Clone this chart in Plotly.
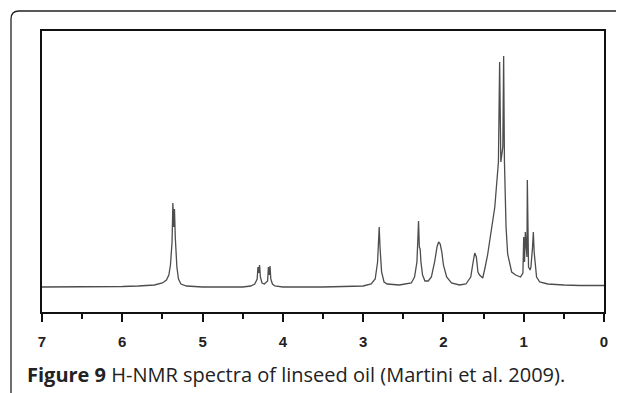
import plotly.graph_objects as go

# Traced spectrum: chemical shift (ppm) and intensity (arbitrary units, baseline = 0)
ppm = [7.0, 6.5, 6.0, 5.8, 5.6, 5.5, 5.45, 5.42, 5.40, 5.38, 5.37, 5.36, 5.35, 5.34, 5.32, 5.30, 5.27, 5.2, 5.0,
       4.5, 4.40, 4.35, 4.32, 4.31, 4.30, 4.29, 4.28, 4.26, 4.23, 4.19, 4.18, 4.17, 4.16, 4.15, 4.13, 4.10, 4.0,
       3.5, 3.0, 2.9, 2.85, 2.82, 2.81, 2.80, 2.79, 2.77, 2.74, 2.7, 2.55,
       2.4, 2.36, 2.33, 2.32, 2.31, 2.30, 2.29, 2.28, 2.26, 2.23, 2.19,
       2.15, 2.11, 2.08, 2.06, 2.04, 2.02, 2.0, 1.96, 1.9, 1.8,
       1.72, 1.66, 1.63, 1.61, 1.59, 1.57, 1.55, 1.51, 1.48, 1.45, 1.42, 1.36, 1.315, 1.30, 1.285,
       1.26, 1.25, 1.24, 1.22, 1.20, 1.15, 1.10, 1.04,
       1.01, 1.00, 0.99, 0.98, 0.97, 0.96, 0.955, 0.95, 0.94, 0.92, 0.91, 0.89, 0.88, 0.87, 0.86, 0.84,
       0.80, 0.7, 0.5, 0.3, 0.0]
intensity = [0, 0, 0.5, 1, 2, 4, 7, 12, 22, 45, 84, 60, 78, 50, 20, 8, 3, 1, 0,
             0, 1, 3, 8, 20, 14, 22, 10, 4, 3, 6, 20, 12, 21, 8, 3, 1, 0,
             0, 1, 3, 8, 25, 45, 60, 40, 15, 5, 3, 2,
             4, 10, 25, 45, 66, 40, 38, 25, 12, 6, 6,
             10, 25, 40, 45, 43, 35, 22, 10, 4, 2,
             3, 10, 25, 34, 30, 15, 12, 9, 20, 32, 48, 80, 125, 225, 125,
             140, 231, 125, 60, 33, 15, 12, 10,
             14, 50, 25, 55, 40, 30, 107, 55, 20, 17, 20, 40, 55, 35, 25, 10,
             5, 3, 2, 1.5, 1.5]

x_ticks = [7, 6, 5, 4, 3, 2, 1, 0]
caption = "<b>Figure 9</b> H-NMR spectra of linseed oil (Martini et al. 2009)."

# The page body has a default 8px margin, so the figure is drawn 8px in from the window edge.
OFF = 8
W, H = 624 - OFF, 393 - OFF
# plot area in window pixels: x 42..604, y 31..312
L, R, T, B = 42 - OFF, 624 - 604, 31 - OFF, 393 - 312
pw, ph = W - L - R, H - T - B

def px(xw):
    return (xw - OFF - L) / pw

def py(yw):
    return (H - B - (yw - OFF)) / ph

fig = go.Figure()
fig.add_trace(go.Scatter(x=ppm, y=intensity, mode="lines",
                         line=dict(color="#4d4d4d", width=1.3), hoverinfo="skip"))

outer = (f"M {px(11)},{py(400)} L {px(11)},{py(19)} Q {px(11)},{py(11)} {px(19)},{py(11)} "
         f"L {px(630)},{py(11)}")

fig.update_layout(
    width=W, height=H,
    margin=dict(l=L, r=R, t=T, b=B),
    paper_bgcolor="white", plot_bgcolor="white",
    showlegend=False,
    xaxis=dict(range=[7, 0], autorange=False, tickvals=x_ticks,
               ticktext=[str(v) for v in x_ticks],
               ticks="outside", ticklen=8, tickwidth=1.5, tickcolor="#111",
               minor=dict(ticks="outside", ticklen=5, tickwidth=1.5, tickcolor="#111", dtick=0.5, tick0=0),
               showline=True, linecolor="#111", linewidth=1.5, mirror=True,
               showgrid=False, zeroline=False, ticklabelstandoff=7,
               tickfont=dict(family="Liberation Sans", size=15, color="#222", weight="bold")),
    yaxis=dict(range=[-25, 256], autorange=False, showticklabels=False, ticks="",
               showline=True, linecolor="#111", linewidth=1.5, mirror=True,
               showgrid=False, zeroline=False),
    shapes=[dict(type="path", path=outer, xref="paper", yref="paper",
                 line=dict(color="#222", width=1.3), layer="above")],
    annotations=[dict(text=caption, x=px(25), y=py(374), xref="paper", yref="paper",
                      xanchor="left", yanchor="middle", showarrow=False,
                      font=dict(family="Open Sans", size=20, color="#222"))],
)

fig.write_html("out.html")
